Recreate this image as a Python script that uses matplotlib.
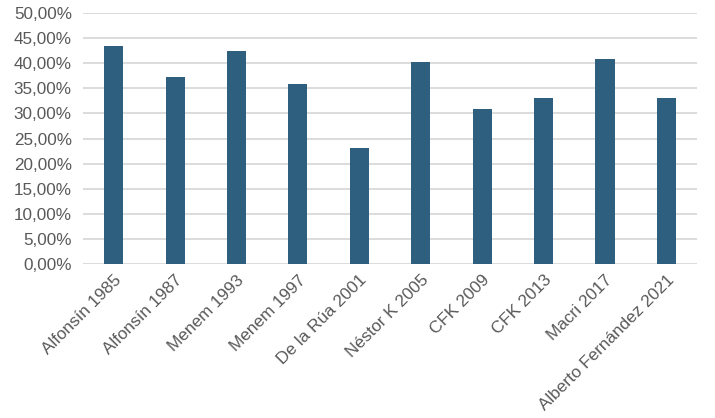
import matplotlib
matplotlib.use("Agg")
import matplotlib.pyplot as plt
from matplotlib.ticker import FuncFormatter, MultipleLocator

candidatos = ["Alfonsín 1985", "Alfonsín 1987", "Menem 1993", "Menem 1997",
              "De la Rúa 2001", "Néstor K 2005", "CFK 2009", "CFK 2013",
              "Macri 2017", "Alberto Fernández 2021"]
porcentajes = [43.4, 37.3, 42.4, 35.9, 23.1, 40.3, 30.8, 33.0, 40.9, 33.0]

plt.rcParams['font.family'] = ['Liberation Sans', 'DejaVu Sans']

fig = plt.figure(figsize=(7.15, 4.18), dpi=100)
ax = fig.add_axes([0.116, 0.368, 0.859, 0.601])

x = range(len(candidatos))
ax.bar(x, porcentajes, width=0.31, color="#2E5F7F", zorder=3)

ax.set_xlim(-0.5, len(candidatos) - 0.5)
ax.set_ylim(0, 50)
ax.yaxis.set_major_locator(MultipleLocator(5))
ax.yaxis.set_major_formatter(FuncFormatter(lambda v, p: f"{v:.2f}%".replace(".", ",")))
ax.grid(axis="y", color="#D9D9D9", linewidth=1.3, zorder=0)

for s in ax.spines.values():
    s.set_visible(False)
ax.tick_params(axis="both", length=0, colors="#595959", labelsize=12.3)
ax.tick_params(axis="y", pad=8)
ax.tick_params(axis="x", pad=6)
ax.set_xticks(list(x))
ax.set_xticklabels(candidatos, rotation=45, ha="right", rotation_mode="anchor")

fig.savefig("out.png", dpi=100)
